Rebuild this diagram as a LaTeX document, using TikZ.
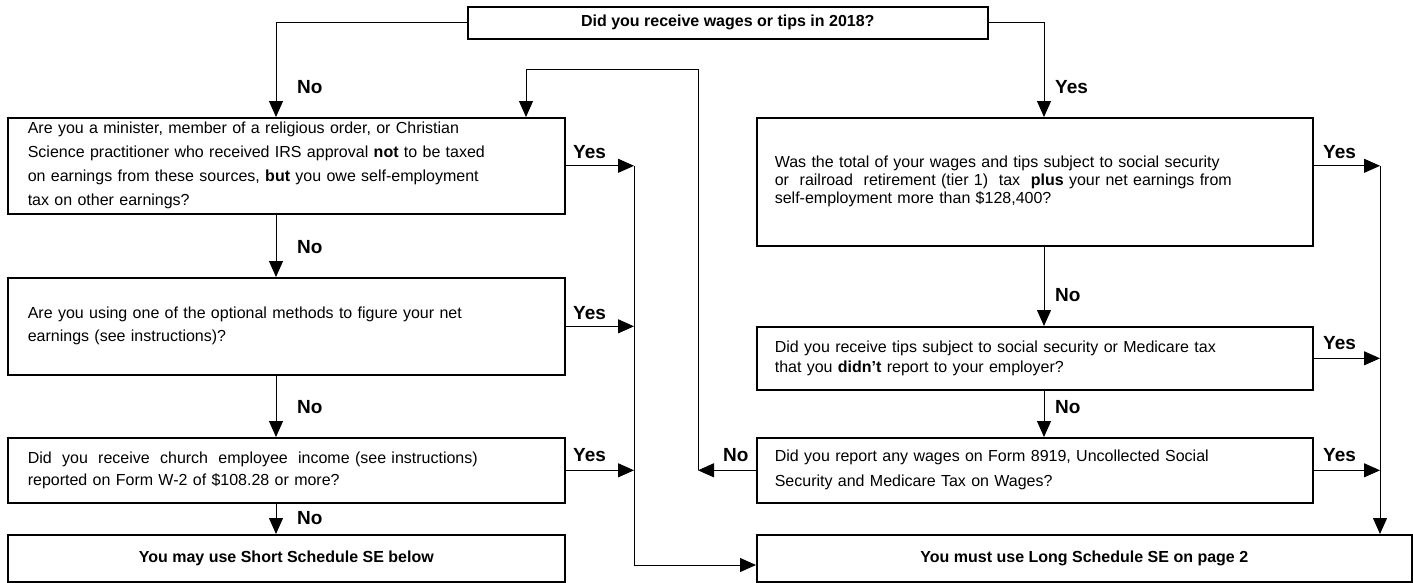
\documentclass[tikz,border=0pt]{standalone}
\usepackage{fontspec}
\setmainfont{Liberation Sans}
\usetikzlibrary{arrows.meta,calc}

\tikzset{
  box/.style={draw, line width=1.6pt, anchor=north west, inner ysep=0pt,
    font=\fontsize{16}{24}\selectfont},
  lbox/.style={box, minimum width=557, text width=517, inner xsep=20pt, align=left},
  rbox/.style={box, minimum width=556, text width=520, inner xsep=18pt, align=left},
  endbox/.style={box, inner xsep=0pt, font=\bfseries\fontsize{16}{19}\selectfont},
  lbl/.style={anchor=west, inner sep=0pt, font=\bfseries\fontsize{19}{19}\selectfont},
  arr/.style={line width=1pt, -{Triangle[length=16pt,width=14pt]}}
}

\begin{document}
\begin{tikzpicture}[x=1pt,y=-1pt]
\useasboundingbox (0,0) rectangle (1413,582);

% columns of the connectors
\coordinate (lcol) at (276,0);
\coordinate (rcol) at (1044,0);
\coordinate (ycol) at (634,0);
\coordinate (rcl) at (1380,0);

\node[endbox, minimum width=520, minimum height=32] (top) at (467,6) {Did you receive wages or tips in 2018?};

% left column
\node[lbox, minimum height=96] (minister) at (7,117) {Are you a minister, member of a religious order, or Christian\\Science practitioner who received IRS approval \textbf{not} to be taxed\\on earnings from these sources, \textbf{but} you owe self-employment\\tax on other earnings?};
\node[lbox, minimum height=97, font=\fontsize{16}{23}\selectfont] (optional) at (7,277) {Are you using one of the optional methods to figure your net\\earnings (see instructions)?};
\node[lbox, minimum height=65, font=\fontsize{16}{22}\selectfont] (church) at (7,437) {\hbox to 450pt{Did\hfil\ you\hfil\ receive\hfil\ church\hfil\ employee\hfil\ income (see instructions)}\\reported on Form W-2 of \$108.28 or more?};
\node[endbox, minimum width=557, minimum height=47] (short) at (7,534) {You may use Short Schedule SE below\hspace{24pt}};

% right column
\node[rbox, minimum height=128, font=\fontsize{16}{18}\selectfont] (wage) at (756,117) {Was the total of your wages and tips subject to social security\\or\ \ railroad\ \ retirement (tier 1)\ \ tax\ \ \textbf{plus} your net earnings from\\self-employment more than \$128,400?};
\node[rbox, minimum height=63, font=\fontsize{16}{20}\selectfont] (tips) at (756,326) {Did you receive tips subject to social security or Medicare tax\\that you \textbf{didn't} report to your employer?};
\node[rbox, minimum height=65, font=\fontsize{16}{25}\selectfont] (form) at (756,437) {Did you report any wages on Form 8919, Uncollected Social\\Security and Medicare Tax on Wages?};
\node[endbox, minimum width=655, minimum height=47] (long) at (756,534) {You must use Long Schedule SE on page 2};

% labels
\node[lbl] (no1) at (297,87) {No};
\node[lbl] (no2) at (297,247) {No};
\node[lbl] (no3) at (297,407) {No};
\node[lbl] (no4) at (297,518) {No};
\node[lbl] (no5) at (1055,295) {No};
\node[lbl] (no6) at (1055,407) {No};
\node[lbl] (no7) at (723,455) {No};
\node[lbl] (yes1) at (1055,87) {Yes};
\node[lbl] (yes2) at (573,152) {Yes};
\node[lbl] (yes3) at (573,313) {Yes};
\node[lbl] (yes4) at (573,455) {Yes};
\node[lbl] (yes5) at (1323,152) {Yes};
\node[lbl] (yes6) at (1323,343) {Yes};
\node[lbl] (yes7) at (1323,455) {Yes};

% down arrows
\draw[arr] (top.west) -| (minister.north -| lcol);
\draw[arr] (top.east) -| (wage.north -| rcol);
\draw[arr] (minister.south -| lcol) -- (optional.north -| lcol);
\draw[arr] (optional.south -| lcol) -- (church.north -| lcol);
\draw[arr] (church.south -| lcol) -- (short.north -| lcol);
\draw[arr] (wage.south -| rcol) -- (tips.north -| rcol);
\draw[arr] (tips.south -| rcol) -- (form.north -| rcol);

% yes arrows on the left
\coordinate (ylow) at (634,565);
\draw[arr] (minister.east) -- (minister.east -| ycol);
\draw[arr] (optional.east) -- (optional.east -| ycol);
\draw[arr] (church.east) -- (church.east -| ycol);
\draw[arr] (minister.east -| ycol) -- (ylow) -- (ylow -| long.west);

% yes arrows on the right
\coordinate (wy) at ([yshift=16pt]wage.east);
\draw[arr] (wy) -- (wy -| rcl);
\draw[arr] (tips.east) -- (tips.east -| rcl);
\draw[arr] (form.east) -- (form.east -| rcl);
\draw[arr] (wy -| rcl) -- (long.north -| rcl);

% back to the top of the left column
\coordinate (loopR) at (698,69);
\coordinate (loopL) at (526,69);
\draw[arr] (form.west) -- (form.west -| loopR);
\draw[arr] (form.west -| loopR) -- (loopR) -- (loopL) -- (minister.north -| loopL);
\end{tikzpicture}
\end{document}
